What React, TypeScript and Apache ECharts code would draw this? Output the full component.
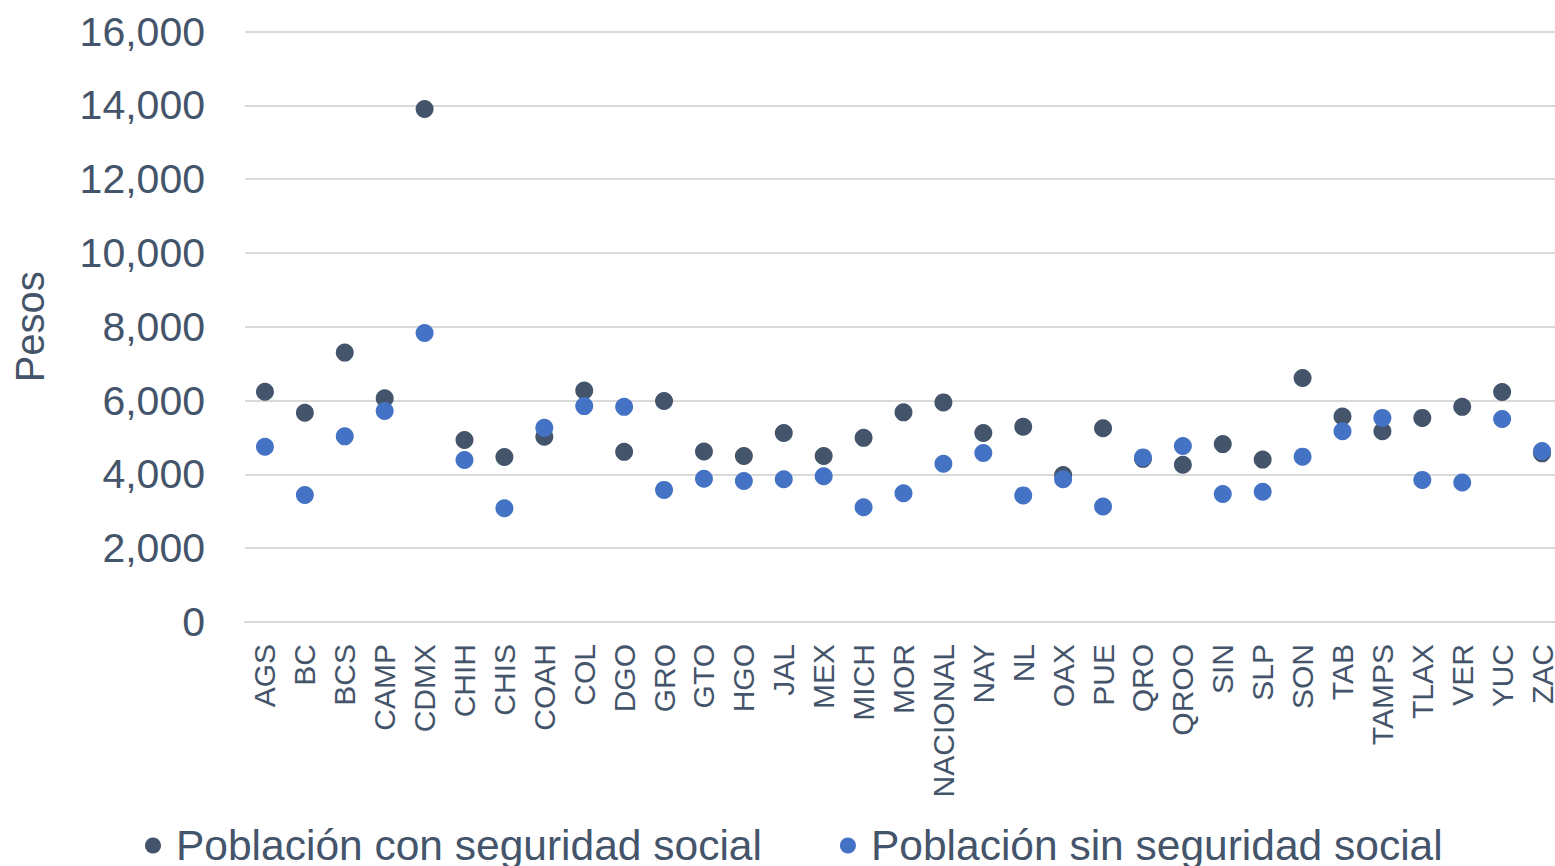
import React, { useEffect, useRef } from "react";
import * as echarts from "echarts";

const categories = ["AGS","BC","BCS","CAMP","CDMX","CHIH","CHIS","COAH","COL","DGO","GRO","GTO","HGO","JAL","MEX","MICH","MOR","NACIONAL","NAY","NL","OAX","PUE","QRO","QROO","SIN","SLP","SON","TAB","TAMPS","TLAX","VER","YUC","ZAC"];
const conSeguridad = [6240,5670,7300,6060,13900,4930,4470,5020,6270,4610,5990,4620,4500,5120,4500,4990,5680,5950,5120,5290,3980,5250,4420,4260,4820,4400,6610,5570,5170,5530,5830,6230,4570];
const sinSeguridad = [4750,3440,5030,5720,7830,4390,3080,5260,5850,5830,3580,3880,3820,3870,3950,3110,3490,4290,4580,3430,3870,3130,4460,4770,3470,3530,4480,5170,5530,3850,3780,5500,4630];
const seriesNames = ["Población con seguridad social","Población sin seguridad social"];
const yMin = 0;
const yMax = 16000;
const yInterval = 2000;

const FONT = "'Liberation Sans', Arial, sans-serif";
const TEXT = "#44546A";

export default function App() {
  const ref = useRef<HTMLDivElement>(null);
  useEffect(() => {
    if (!ref.current) return;
    const chart = echarts.init(ref.current, null, { renderer: "svg" });
    chart.setOption({
      animation: false,
      backgroundColor: "#ffffff",
      textStyle: { fontFamily: FONT },
      grid: { left: 245, top: 31.5, right: 0, bottom: 244, containLabel: false },
      legend: {
        left: 140,
        top: 819,
        itemGap: 78,
        itemWidth: 36,
        itemHeight: 16,
        icon: "circle",
        textStyle: { fontSize: 42.5, color: TEXT, fontFamily: FONT },
        data: seriesNames,
      },
      xAxis: {
        type: "category",
        data: categories,
        boundaryGap: true,
        axisLine: { show: true, lineStyle: { color: "#D9D9D9", width: 2 } },
        axisTick: { show: false },
        axisLabel: { rotate: 90, margin: 22, fontSize: 30, color: TEXT, fontFamily: FONT, interval: 0 },
        splitLine: { show: false },
      },
      yAxis: {
        type: "value",
        min: yMin,
        max: yMax,
        interval: yInterval,
        name: "Pesos",
        nameLocation: "middle",
        nameGap: 195,
        nameRotate: 90,
        nameTextStyle: { fontSize: 40, color: TEXT, fontFamily: FONT },
        axisLine: { show: false },
        axisTick: { show: false },
        axisLabel: {
          fontSize: 41,
          color: TEXT,
          fontFamily: FONT,
          margin: 40,
          formatter: (v: number) => v.toLocaleString("en-US"),
        },
        splitLine: { lineStyle: { color: "#D9D9D9", width: 2 } },
      },
      series: [
        {
          name: seriesNames[0],
          type: "scatter",
          data: conSeguridad,
          symbol: "circle",
          symbolSize: 18,
          itemStyle: { color: "#44546A", opacity: 1 },
        },
        {
          name: seriesNames[1],
          type: "scatter",
          data: sinSeguridad,
          symbol: "circle",
          symbolSize: 18,
          itemStyle: { color: "#4472C4", opacity: 1 },
        },
      ],
    });
    return () => chart.dispose();
  }, []);
  return (
    <div
      ref={ref}
      style={{ position: "fixed", left: 0, top: 0, width: 1562, height: 866, background: "#fff" }}
    />
  );
}
